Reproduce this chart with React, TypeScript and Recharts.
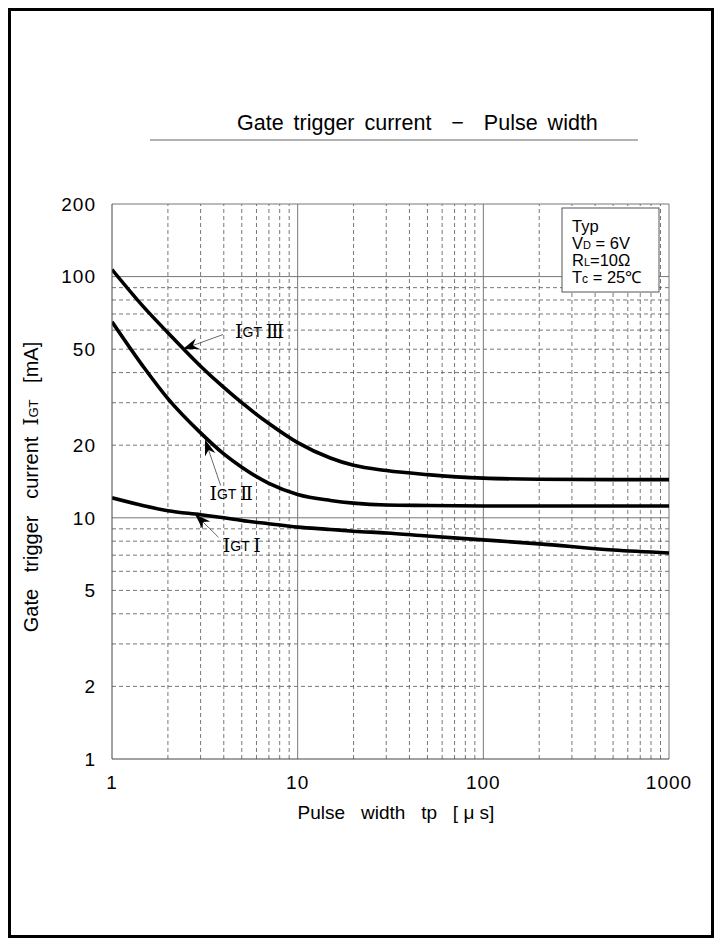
import { LineChart, Line, XAxis, YAxis, ReferenceLine, ReferenceDot } from 'recharts';

// pulse width tp [us]
const TP = [1, 1.5, 2, 3, 4, 5, 7, 10, 15, 20, 30, 50, 100, 200, 500, 1000];
// gate trigger current [mA]
const IGT3 = [107, 74, 58.5, 42.5, 34.7, 30, 24.6, 20.5, 17.7, 16.5, 15.7, 15.1, 14.6, 14.45, 14.4, 14.4];
const IGT2 = [65, 41.6, 31.2, 22.5, 18.4, 16.2, 13.9, 12.5, 11.8, 11.5, 11.3, 11.25, 11.2, 11.2, 11.2, 11.2];
const IGT1 = [12.1, 11.2, 10.7, 10.3, 10.0, 9.75, 9.45, 9.15, 8.95, 8.8, 8.65, 8.4, 8.1, 7.8, 7.35, 7.15];

const X_TICKS = [1, 10, 100, 1000];
const Y_TICKS = [1, 2, 5, 10, 20, 50, 100, 200];
const X_MAJOR = [10, 100, 1000];
const X_MINOR = [2, 3, 4, 5, 6, 7, 8, 9, 20, 30, 40, 50, 60, 70, 80, 90, 200, 300, 400, 500, 600, 700, 800, 900];
const Y_MAJOR = [10, 100, 200];
const Y_MINOR = [2, 3, 4, 5, 6, 7, 8, 9, 20, 30, 40, 50, 60, 70, 80, 90];

const FONT = '"Liberation Sans", Arial, sans-serif';
const SERIF = '"DejaVu Serif", "Liberation Serif", serif';

const toRows = (ys: number[]) => TP.map((tp, i) => ({ tp, v: ys[i] }));

const Arrow = (p: any) => {
  const { x1, y1, x2, y2 } = p;
  const ang = Math.atan2(y2 - y1, x2 - x1);
  const L = 16;
  const W = 5.5;
  const bx = x2 - L * Math.cos(ang);
  const by = y2 - L * Math.sin(ang);
  const nx = x2 - (L - 5) * Math.cos(ang);
  const ny = y2 - (L - 5) * Math.sin(ang);
  const px = -Math.sin(ang) * W;
  const py = Math.cos(ang) * W;
  return (
    <g>
      <line x1={x1} y1={y1} x2={nx} y2={ny} stroke="#444" strokeWidth={0.8} />
      <polygon points={`${x2},${y2} ${bx + px},${by + py} ${nx},${ny} ${bx - px},${by - py}`} fill="#000" />
    </g>
  );
};

const makeLabel = (num: string) => (p: any) => (
  <text x={p.cx} y={p.cy} dominantBaseline="middle" fill="#000" style={{ whiteSpace: 'pre' }}>
    <tspan fontFamily={SERIF} fontSize={19}>I</tspan>
    <tspan fontFamily={FONT} fontSize={14}>GT </tspan>
    <tspan fontFamily={SERIF} fontSize={19}>{num}</tspan>
  </text>
);

export default function App() {
  return (
    <div style={{ position: 'absolute', left: 0, top: 0, width: 723, height: 944, background: '#fff', fontFamily: FONT }}>
      <div style={{ position: 'absolute', left: 8, top: 8, width: 706, height: 930, border: '3px solid #000', boxSizing: 'border-box' }} />
      <LineChart
        width={723}
        height={944}
        data={toRows(IGT1)}
        margin={{ top: 204, right: 54, bottom: 155, left: 52 }}
        style={{ position: 'absolute', left: 0, top: 0 }}
      >
        <XAxis
          dataKey="tp"
          type="number"
          scale="log"
          domain={[1, 1000]}
          ticks={X_TICKS}
          allowDataOverflow
          height={30}
          tickLine={false}
          tickSize={0}
          tickMargin={17}
          axisLine={{ stroke: '#444' }}
          tick={{ fontSize: 19, fill: '#000', fontFamily: FONT, letterSpacing: 1 }}
        />
        <YAxis
          type="number"
          scale="log"
          domain={[1, 200]}
          ticks={Y_TICKS}
          allowDataOverflow
          width={60}
          tickLine={false}
          tickSize={0}
          tickMargin={16}
          axisLine={{ stroke: '#444' }}
          tick={{ fontSize: 19, fill: '#000', fontFamily: FONT, letterSpacing: 1 }}
        />
        {X_MINOR.map((v) => (
          <ReferenceLine key={'xm' + v} x={v} stroke="#555" strokeDasharray="4 3" strokeWidth={0.8} />
        ))}
        {Y_MINOR.map((v) => (
          <ReferenceLine key={'ym' + v} y={v} stroke="#555" strokeDasharray="4 3" strokeWidth={0.8} />
        ))}
        {X_MAJOR.map((v) => (
          <ReferenceLine key={'xM' + v} x={v} stroke="#777" strokeWidth={1} />
        ))}
        {Y_MAJOR.map((v) => (
          <ReferenceLine key={'yM' + v} y={v} stroke="#777" strokeWidth={1} />
        ))}
        <Line data={toRows(IGT3)} dataKey="v" type="monotone" stroke="#000" strokeWidth={3.6} dot={false} isAnimationActive={false} />
        <Line data={toRows(IGT2)} dataKey="v" type="monotone" stroke="#000" strokeWidth={3.6} dot={false} isAnimationActive={false} />
        <Line data={toRows(IGT1)} dataKey="v" type="monotone" stroke="#000" strokeWidth={3.6} dot={false} isAnimationActive={false} />
        <ReferenceLine segment={[{ x: 3.96, y: 57.5 }, { x: 2.4, y: 50 }]} shape={Arrow} />
        <ReferenceLine segment={[{ x: 3.85, y: 13.6 }, { x: 3.17, y: 21.1 }]} shape={Arrow} />
        <ReferenceLine segment={[{ x: 3.75, y: 8.3 }, { x: 2.8, y: 10.35 }]} shape={Arrow} />
        <ReferenceDot x={4.6} y={58.5} r={0} shape={makeLabel('Ⅲ')} />
        <ReferenceDot x={3.35} y={12.4} r={0} shape={makeLabel('Ⅱ')} />
        <ReferenceDot x={3.95} y={7.55} r={0} shape={makeLabel('Ⅰ')} />
      </LineChart>
      <svg width={723} height={944} style={{ position: 'absolute', left: 0, top: 0, pointerEvents: 'none' }}>
        <text x={237} y={130} fontSize={21.5} fontFamily={FONT} fill="#000" style={{ whiteSpace: 'pre', wordSpacing: '4px' }}>
          Gate trigger current  −  Pulse width
        </text>
        <line x1={150} y1={140} x2={638} y2={140} stroke="#999" strokeWidth={1.5} />
        <text transform="translate(38,487) rotate(-90)" textAnchor="middle" fontSize={20} fontFamily={FONT} fill="#000" style={{ whiteSpace: 'pre' }}>
          {'Gate   trigger   current  '}
          <tspan fontFamily={SERIF} fontSize={20}>I</tspan>
          <tspan fontSize={13}>GT</tspan>
          {'   [mA]'}
        </text>
        <text x={396} y={819} textAnchor="middle" fontSize={19} fontFamily={FONT} fill="#000" style={{ whiteSpace: 'pre' }}>
          {'Pulse   width   tp   [ μ s]'}
        </text>
        <rect x={562} y={208} width={97} height={84} fill="#fff" stroke="#555" strokeWidth={1} />
        <g fontSize={16.5} fontFamily={FONT} fill="#000">
          <text x={572} y={232}>Typ</text>
          <text x={572} y={249}>V<tspan fontSize={11}>D</tspan> = 6V</text>
          <text x={572} y={266}>R<tspan fontSize={11}>L</tspan>=10Ω</text>
          <text x={572} y={283}>T<tspan fontSize={12}>c</tspan> = 25℃</text>
        </g>
      </svg>
    </div>
  );
}
